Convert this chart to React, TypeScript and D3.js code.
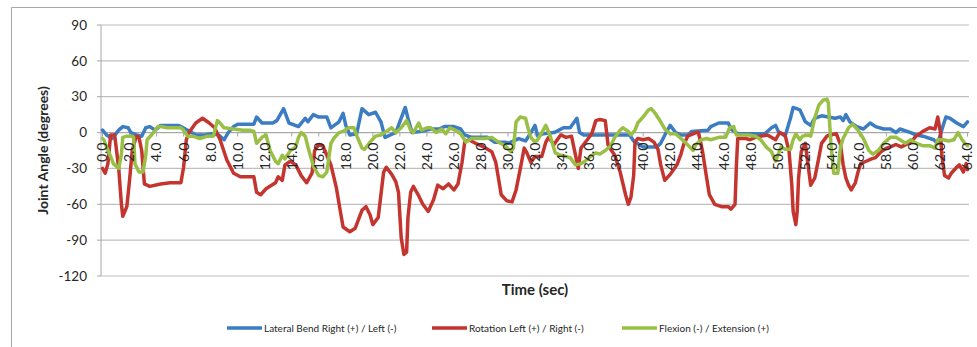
import React from 'react';
import * as d3 from 'd3';

type Pt = [number, number];

const lateralBend: Pt[] = [
  [0,2],[0.3,-2],[0.7,-5],[1.2,2],[1.5,5],[1.9,4],[2.1,0],[2.5,-2],[2.9,-3],[3.2,4],[3.5,5],[3.9,2],[4.3,6],[5.0,6],[5.6,6],[5.8,5],[6.3,2],[6.9,-2],[7.6,-2],[8.1,-1],[8.6,-2],[9.0,-6],[9.3,0],[9.7,5],[10.0,7],[10.7,7],[11.2,7],[11.4,13],[11.8,8],[12.6,8],[12.9,10],[13.4,20],[13.8,8],[14.5,5],[15.0,12],[15.2,9],[15.6,15],[16.0,13],[16.6,13],[16.9,4],[17.5,9],[17.8,16],[18.0,6],[18.3,-2],[18.8,-1],[19.2,20],[19.7,15],[20.2,17],[20.6,9],[20.9,-4],[21.5,-1],[21.7,0],[22.1,12],[22.4,21],[22.6,12],[22.9,0],[23.6,1],[24.3,3],[24.9,3],[25.3,5],[26.0,5],[26.5,3],[26.8,-2],[27.3,-4],[28.5,-4],[29.0,-8],[29.8,-8],[30.0,-9],[30.8,-5],[31.3,-7],[31.7,0],[32.0,6],[32.2,-3],[32.6,-1],[33.4,0],[33.6,1],[34.1,4],[34.6,4],[35.1,12],[35.3,0],[35.6,-2],[37.6,-2],[38.0,-2],[39.0,-2],[39.3,-7],[40.0,-12],[41.0,-12],[41.3,-9],[41.7,0],[42.0,6],[42.4,0],[42.8,-2],[43.3,-2],[43.6,1],[44.8,2],[45.0,5],[45.6,8],[46.3,8],[46.5,3],[47.0,-1],[49.0,-1],[49.5,4],[49.8,6],[50.0,1],[50.5,-3],[50.9,12],[51.1,21],[51.6,19],[52.0,9],[52.4,6],[52.7,12],[53.2,14],[53.7,13],[54.2,12],[54.6,13],[54.8,10],[55.0,15],[55.3,9],[55.8,5],[56.3,3],[56.8,8],[57.2,5],[57.8,3],[58.3,3],[58.7,0],[59.0,3],[59.8,0],[60.2,-2],[60.7,-3],[61.5,-6],[61.8,-9],[62.2,6],[62.4,13],[62.7,12],[63.2,8],[63.7,5],[64.0,9]
];

const rotation: Pt[] = [
  [0,-30],[0.2,-34],[0.4,-26],[0.6,-2],[0.9,-2],[1.2,-30],[1.4,-60],[1.5,-70],[1.8,-62],[2.0,-40],[2.2,-15],[2.5,-3],[2.7,-4],[2.9,-15],[3.1,-43],[3.5,-45],[4.3,-43],[5.0,-42],[5.8,-42],[6.0,-29],[6.2,-6],[6.4,0],[6.9,8],[7.4,12],[7.9,8],[8.3,4],[8.7,-6],[9.2,-23],[9.7,-34],[10.2,-37],[11.2,-37],[11.4,-50],[11.7,-52],[12.1,-47],[12.8,-42],[13.0,-37],[13.3,-40],[13.5,-27],[13.9,-24],[14.3,-27],[14.7,-36],[15.1,-42],[15.5,-34],[15.7,-15],[16.0,-10],[16.3,-11],[16.6,-19],[16.9,-27],[17.3,-46],[17.6,-66],[17.8,-79],[18.3,-83],[18.7,-80],[19.0,-71],[19.2,-65],[19.5,-62],[19.8,-69],[20.0,-77],[20.4,-71],[20.6,-52],[20.8,-33],[21.0,-29],[21.4,-35],[21.7,-41],[21.9,-50],[22.1,-88],[22.3,-102],[22.5,-100],[22.6,-71],[22.8,-50],[23.0,-45],[23.4,-53],[23.7,-60],[24.1,-66],[24.5,-56],[24.8,-44],[25.2,-47],[25.6,-43],[26.0,-48],[26.3,-43],[26.6,-25],[26.8,-8],[27.1,-6],[27.6,-9],[28.2,-12],[28.8,-16],[29.1,-25],[29.5,-52],[29.9,-57],[30.3,-58],[30.6,-48],[30.9,-31],[31.2,-13],[31.4,-17],[31.7,-25],[32.0,-20],[32.5,-20],[32.8,-8],[33.0,-4],[33.4,-10],[33.9,-2],[34.3,-4],[34.7,-3],[35.0,-19],[35.2,-30],[35.4,-13],[35.8,-7],[36.2,-1],[36.5,10],[36.8,11],[37.2,10],[37.4,-10],[37.6,-14],[37.9,-19],[38.3,-33],[38.7,-52],[38.9,-60],[39.1,-54],[39.3,-36],[39.4,-8],[39.6,-5],[40.0,-6],[40.4,-5],[40.8,-8],[41.1,-14],[41.3,-27],[41.6,-40],[42.0,-35],[42.5,-27],[42.8,-18],[43.0,-10],[43.3,-3],[43.9,0],[44.1,0],[44.4,-16],[44.7,-38],[44.9,-52],[45.3,-60],[45.8,-62],[46.3,-62],[46.5,-64],[46.8,-60],[46.9,-28],[47.0,-5],[47.6,-5],[47.9,-6],[48.3,-4],[48.7,-3],[49.2,-2],[49.8,-6],[50.1,0],[50.5,-2],[50.8,-16],[51.0,-44],[51.1,-66],[51.3,-77],[51.4,-66],[51.5,-38],[51.7,-16],[52.0,-9],[52.2,-27],[52.4,-44],[52.7,-38],[53.0,-21],[53.2,-9],[53.6,-3],[53.8,-2],[54.3,-1],[54.6,-10],[54.8,-27],[55.0,-38],[55.2,-44],[55.4,-48],[55.7,-42],[55.9,-33],[56.1,-26],[56.5,-24],[56.9,-22],[57.2,-21],[57.6,-16],[58.0,-13],[58.3,-12],[58.7,-10],[59.1,-12],[59.8,-8],[60.2,-3],[60.7,1],[61.2,4],[61.6,3],[61.8,13],[62.0,0],[62.1,-19],[62.3,-36],[62.6,-38],[62.8,-34],[63.2,-29],[63.4,-27],[63.7,-33],[63.9,-26],[64.0,-31]
];

const flexion: Pt[] = [
  [0,-5],[0.1,-6],[0.3,-12],[0.6,-20],[0.8,-26],[1.2,-30],[1.4,-18],[1.5,-4],[1.8,-3],[2.2,-3],[2.3,-4],[2.4,-26],[2.7,-33],[3.0,-33],[3.2,-19],[3.3,-6],[3.7,-1],[4.1,5],[4.3,5],[4.8,4],[5.8,4],[6.0,2],[6.3,-3],[6.7,-3],[7.2,-5],[7.8,-3],[8.2,-3],[8.5,10],[8.7,8],[9.0,4],[9.7,3],[10.4,2],[10.9,2],[11.2,1],[11.4,-9],[11.8,-4],[12.1,-2],[12.4,-15],[12.8,-24],[13.0,-26],[13.3,-19],[13.5,-22],[13.9,-15],[14.3,-12],[14.5,-4],[14.7,0],[15.0,-3],[15.2,-12],[15.6,-28],[16.0,-36],[16.3,-37],[16.6,-33],[16.9,-9],[17.1,-5],[17.5,0],[17.8,1],[18.2,4],[18.6,4],[18.9,-5],[19.2,-13],[19.4,-14],[19.8,-8],[20.2,-3],[20.6,-2],[21.0,1],[21.4,4],[21.7,0],[22.1,4],[22.5,10],[22.8,2],[23.0,0],[23.4,8],[23.6,2],[24.0,4],[24.3,4],[24.7,0],[25.1,3],[25.4,-1],[25.7,4],[26.1,2],[26.5,-1],[26.9,-8],[27.3,-5],[28.3,-5],[28.8,-4],[29.3,-8],[29.8,-11],[30.2,-16],[30.4,-13],[30.6,9],[30.9,13],[31.3,12],[31.5,3],[31.7,-4],[32.0,-8],[32.2,-6],[32.5,0],[32.8,6],[33.1,-2],[33.5,-17],[33.9,-19],[34.6,-21],[35.0,-27],[35.4,-26],[35.7,-24],[36.1,-20],[36.5,-17],[36.8,-18],[37.2,-15],[37.6,-11],[37.9,-4],[38.3,2],[38.5,4],[38.9,1],[39.1,-2],[39.4,2],[39.6,8],[40.0,13],[40.4,19],[40.6,20],[40.9,16],[41.3,9],[41.6,3],[42.0,-1],[42.4,-1],[42.8,-5],[43.1,-8],[43.7,-15],[43.9,-10],[44.3,-6],[44.7,-5],[45.0,-6],[45.6,-4],[46.1,-4],[46.4,4],[46.7,5],[46.9,-2],[47.8,-2],[48.3,-3],[48.7,-6],[49.1,-12],[49.5,-16],[49.8,-24],[50.0,-18],[50.2,-12],[50.5,-14],[50.9,-14],[51.1,-6],[51.3,-1],[51.6,-6],[51.8,-3],[52.2,-2],[52.4,-3],[52.7,12],[53.0,23],[53.3,27],[53.6,28],[53.7,25],[53.9,-10],[54.1,-34],[54.4,-34],[54.6,-12],[54.8,-5],[55.2,4],[55.5,7],[55.9,2],[56.3,-5],[56.7,-15],[57.0,-18],[57.4,-15],[57.8,-9],[58.3,-4],[58.7,-4],[59.0,-6],[59.4,-9],[59.8,-6],[60.2,-9],[60.7,-11],[61.2,-11],[61.6,-13],[61.8,-6],[62.2,-6],[62.6,-7],[63.0,-6],[63.3,0],[63.6,-6],[63.8,-9],[64.0,-11]
];

const yTicks = [90, 60, 30, 0, -30, -60, -90, -120];
const xTicks = [0,2,4,6,8,10,12,14,16,18,20,22,24,26,28,30,32,34,36,38,40,42,44,46,48,50,52,54,56,58,60,62,64];
const seriesNames = ['Lateral Bend Right (+) / Left (-)', 'Rotation Left (+) / Right (-)', 'Flexion (-) / Extension (+)'];
const seriesColors = ['#3B7CC3', '#C4352F', '#99BF45'];

export default function App() {
  const W = 977, H = 347;
  const x = d3.scaleLinear().domain([0, 64]).range([102.5, 967.5]);
  const y = d3.scaleLinear().domain([-120, 90]).range([276, 25]);
  const line = d3.line<Pt>().x(d => x(d[0])).y(d => y(d[1]));
  const series = [lateralBend, rotation, flexion];
  const plotL = 101, plotR = 969;
  const y0 = y(0);
  const font = 'Lato, "Open Sans", sans-serif';
  const legendX = [227, 432, 622];

  return (
    <svg width={W} height={H} style={{ position: 'absolute', left: 0, top: 0, background: '#fff' }} fontFamily={font}>
      <rect x={0} y={0} width={W} height={H} fill="#fff" />
      <path d={`M11.5,${H} V7.5 H${W}`} fill="none" stroke="#A6A6A6" strokeWidth={1} />
      {yTicks.map(t => (
        <g key={t}>
          <line x1={plotL} x2={plotR} y1={y(t)} y2={y(t)} stroke="#BFBFBF" strokeWidth={1.2} />
          <line x1={plotL - 4} x2={plotL} y1={y(t)} y2={y(t)} stroke="#A6A6A6" strokeWidth={1} />
          <text x={87} y={y(t)} dy="0.35em" textAnchor="end" fontSize={13.5} fill="#262626">{t}</text>
        </g>
      ))}
      <line x1={plotL} x2={plotL} y1={y(90)} y2={y(-120)} stroke="#A6A6A6" strokeWidth={1} />
      <line x1={plotL} x2={plotR} y1={y0} y2={y0} stroke="#A6A6A6" strokeWidth={1} />
      {xTicks.map(t => (
        <line key={'tk' + t} x1={x(t)} x2={x(t)} y1={y0} y2={y0 + 4} stroke="#A6A6A6" strokeWidth={1} />
      ))}
      {series.map((s, i) => (
        <path key={i} d={line(s) || ''} fill="none" stroke={seriesColors[i]} strokeWidth={3.5} strokeLinejoin="round" strokeLinecap="round" />
      ))}
      {xTicks.map(t => (
        <text key={'xl' + t} transform={`translate(${x(t)},${y0 + 10}) rotate(-90)`} dy="0.35em" textAnchor="end" fontSize={14} fill="#262626">{t.toFixed(1)}</text>
      ))}
      <text transform={`translate(48,${(y(90) + y(-120)) / 2}) rotate(-90)`} textAnchor="middle" fontSize={14} fontWeight="bold" fill="#262626">Joint Angle (degrees)</text>
      <text x={535} y={295} textAnchor="middle" fontSize={15} fontWeight="bold" fill="#262626">Time (sec)</text>
      {seriesNames.map((n, i) => (
        <g key={n}>
          <line x1={legendX[i]} x2={legendX[i] + 35} y1={328} y2={328} stroke={seriesColors[i]} strokeWidth={3.5} />
          <text x={legendX[i] + 37} y={328} dy="0.35em" fontSize={10} fill="#262626">{n}</text>
        </g>
      ))}
    </svg>
  );
}
